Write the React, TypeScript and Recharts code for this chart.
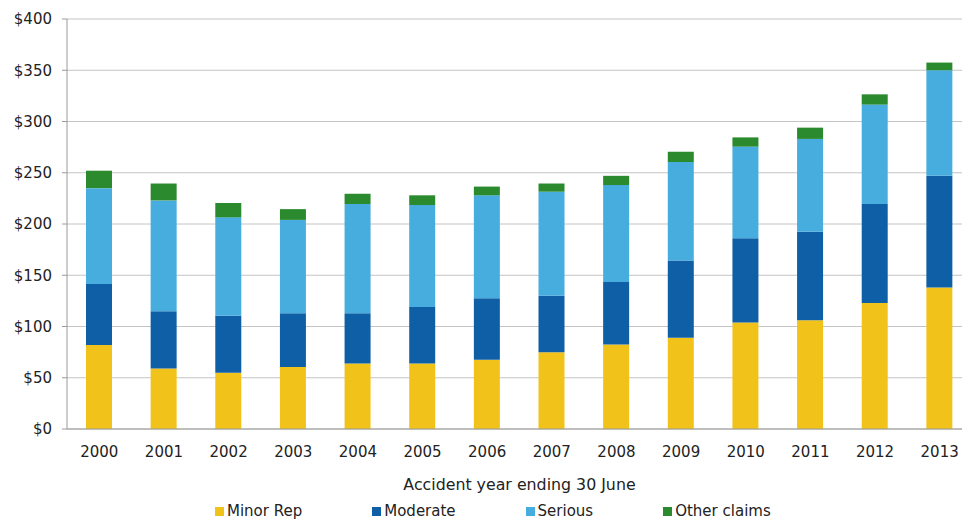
import { BarChart, Bar, XAxis, YAxis, CartesianGrid } from 'recharts';

const years = ['2000', '2001', '2002', '2003', '2004', '2005', '2006', '2007', '2008', '2009', '2010', '2011', '2012', '2013'];
const minorRep = [82, 59, 55, 60.5, 64, 64, 67.5, 75, 82.5, 89, 104, 106, 123, 138];
const moderate = [59.5, 56, 55.5, 52.5, 49, 55, 60, 55, 61, 75.5, 82, 86.5, 96.5, 109];
const serious = [93.5, 108, 96, 91, 106.5, 99.5, 100.5, 101.5, 94.5, 96, 89.5, 90.5, 97, 103];
const otherClaims = [17, 16.5, 14, 10.5, 10, 9.5, 8.5, 8, 9, 10, 9, 11, 10, 7.5];
const yTicks = [0, 50, 100, 150, 200, 250, 300, 350, 400];

const series = [
  { key: 'minorRep', name: 'Minor Rep', color: '#f1c31a' },
  { key: 'moderate', name: 'Moderate', color: '#0f5fa7' },
  { key: 'serious', name: 'Serious', color: '#47addf' },
  { key: 'otherClaims', name: 'Other claims', color: '#2b8a2d' },
];

const data = years.map((year, i) => ({
  year,
  minorRep: minorRep[i],
  moderate: moderate[i],
  serious: serious[i],
  otherClaims: otherClaims[i],
}));

const font = '"DejaVu Sans", Verdana, sans-serif';
const tickStyle = { fill: '#222', fontSize: 15, fontFamily: font };

const App = () => {
  return (
    <div style={{ position: 'absolute', left: 0, top: 0, width: 962, height: 520, overflow: 'hidden', background: '#fff' }}>
      <BarChart
        width={980}
        height={520}
        data={data}
        margin={{ top: 19, right: 8, left: 0, bottom: 25 }}
      >
        <CartesianGrid vertical={false} stroke="#c4c4c4" />
        <XAxis
          dataKey="year"
          height={66}
          tickLine={false}
          tickSize={0}
          tickMargin={17}
          axisLine={{ stroke: '#9a9a9a' }}
          tick={tickStyle}
          label={{
            value: 'Accident year ending 30 June',
            position: 'insideBottom',
            offset: 5,
            style: { fill: '#222', fontSize: 15.8, fontFamily: font },
          }}
        />
        <YAxis
          width={67}
          domain={[0, 400]}
          ticks={yTicks}
          tickFormatter={(v: number) => `$${v}`}
          tickSize={5}
          tickMargin={10}
          tickLine={{ stroke: '#9a9a9a' }}
          axisLine={{ stroke: '#9a9a9a' }}
          tick={tickStyle}
        />
        {series.map((s) => (
          <Bar key={s.key} dataKey={s.key} name={s.name} stackId="a" fill={s.color} barSize={26} isAnimationActive={false} />
        ))}
      </BarChart>
      {/* legend row under the axis title */}
      <div
        style={{
          position: 'absolute',
          left: 215,
          top: 502,
          display: 'flex',
          gap: 70,
          fontFamily: font,
          fontSize: 15,
          color: '#222',
          lineHeight: '18px',
        }}
      >
        {series.map((s) => (
          <div key={s.key} style={{ display: 'flex', alignItems: 'center' }}>
            <span style={{ display: 'inline-block', width: 9, height: 9, background: s.color, marginRight: 3 }} />
            <span>{s.name}</span>
          </div>
        ))}
      </div>
    </div>
  );
};

export default App;
